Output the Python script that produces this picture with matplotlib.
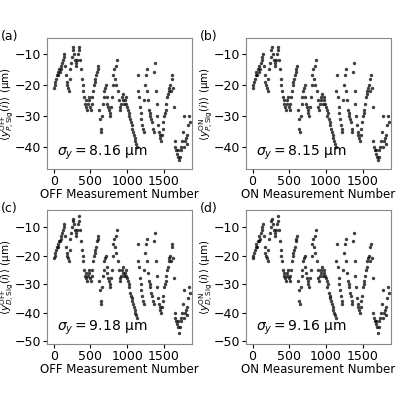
import matplotlib
matplotlib.use("Agg")
import matplotlib.pyplot as plt
import numpy as np

# readings of the centre of the point cloud, one every 10 measurements
y_p = [-21, -20, -19, -18, -17, -16, -17, -15, -16, -14,
       -15, -13, -12, -11, -10, -14, -17, -19, -20, -21,
       -22, -18, -15, -13, -11, -9, -8, -10, -12, -14,
       -13, -12, -10, -9, -8, -12, -15, -18, -20, -22,
       -24, -26, -25, -27, -28, -26, -25, -24, -27, -28,
       -26, -24, -22, -20, -19, -18, -17, -16, -15, -14,
       -28, -31, -34, -35, -30, -26, -24, -22, -21, -20,
       -24, -26, -27, -28, -29, -30, -27, -24, -20, -17,
       -15, -18, -20, -14, -12, -22, -25, -27, -28, -26,
       -24, -25, -23, -26, -25, -24, -26, -27, -28, -30,
       -29, -31, -32, -33, -34, -35, -36, -37, -38, -39,
       -40, -22, -17, -24, -27, -29, -31, -33, -34, -35,
       -25, -20, -17, -15, -22, -25, -28, -30, -29, -31,
       -32, -34, -35, -16, -13, -22, -26, -30, -33, -35,
       -36, -37, -38, -36, -34, -32, -30, -29, -28, -26,
       -24, -23, -22, -21, -20, -22, -18, -17, -21, -27,
       -38, -40, -41, -42, -41, -43, -44, -43, -41, -40,
       -38, -35, -30, -40, -38, -37, -39, -36, -33, -30, -32]

y_d = [-21, -20, -19, -18, -17, -16, -17, -15, -15, -13,
       -14, -12, -11, -10, -9, -13, -17, -19, -20, -21,
       -22, -18, -14, -12, -10, -8, -7, -9, -11, -13,
       -12, -11, -9, -8, -6, -11, -15, -18, -20, -22,
       -25, -27, -26, -28, -29, -27, -26, -25, -28, -29,
       -27, -25, -22, -20, -19, -18, -17, -15, -14, -13,
       -29, -32, -36, -37, -31, -27, -25, -22, -21, -20,
       -24, -26, -28, -29, -30, -31, -28, -25, -20, -16,
       -14, -17, -19, -13, -11, -22, -25, -28, -29, -27,
       -25, -26, -24, -27, -26, -25, -27, -28, -29, -31,
       -30, -33, -34, -35, -36, -37, -38, -39, -40, -41,
       -42, -22, -16, -24, -28, -30, -32, -34, -36, -37,
       -25, -19, -16, -14, -22, -26, -29, -31, -30, -33,
       -34, -36, -37, -15, -12, -22, -27, -31, -35, -37,
       -38, -39, -40, -38, -36, -34, -31, -30, -29, -27,
       -25, -24, -22, -21, -20, -22, -17, -16, -21, -28,
       -40, -42, -43, -44, -43, -45, -47, -45, -43, -42,
       -40, -37, -32, -42, -40, -39, -41, -38, -35, -31, -33]

meas_step = 10.3
panels = [
    ("(a)", y_p, "OFF", "P", "8.16"),
    ("(b)", y_p, "ON", "P", "8.15"),
    ("(c)", y_d, "OFF", "D", "9.18"),
    ("(d)", y_d, "ON", "D", "9.16"),
]
ylims = [(-47, -5), (-47, -5), (-51, -4), (-51, -4)]
yticks = [[-40, -30, -20, -10], [-40, -30, -20, -10],
          [-50, -40, -30, -20, -10], [-50, -40, -30, -20, -10]]
boxes = [[0.118, 0.577, 0.363, 0.328], [0.615, 0.577, 0.363, 0.328],
         [0.118, 0.14, 0.363, 0.335], [0.615, 0.14, 0.363, 0.335]]

fig = plt.figure(figsize=(4, 4), dpi=100)
for (tag, yv, mode, sub, sig), ylim, yt, box in zip(panels, ylims, yticks, boxes):
    ax = fig.add_axes(box)
    x = np.arange(len(yv)) * meas_step
    ax.scatter(x, yv, s=6, c="black", alpha=0.75, marker="o", lw=0)
    ax.set_xlim(-90, 1890)
    ax.set_ylim(*ylim)
    ax.set_xticks([0, 500, 1000, 1500])
    ax.set_yticks(yt)
    ax.tick_params(labelsize=9, length=3, pad=1.5)
    for sp in ax.spines.values():
        sp.set_color("#888888")
    ax.set_xlabel(f"{mode} Measurement Number", fontsize=8.5, labelpad=0)
    ax.set_ylabel(r"$\langle y^{\rm " + mode + r"}_{" + sub + r",\rm Sig}(i)\rangle$ (µm)",
                  fontsize=7.5)
    ax.yaxis.set_label_coords(-0.215, 0.5)
    ax.text(0.07, 0.1, r"$\sigma_y = $" + sig + " µm", transform=ax.transAxes, fontsize=10)
    fig.text(box[0] - 0.116, box[1] + box[3] + 0.003, tag, fontsize=9, va="center")

fig.savefig("out.png", dpi=100)
